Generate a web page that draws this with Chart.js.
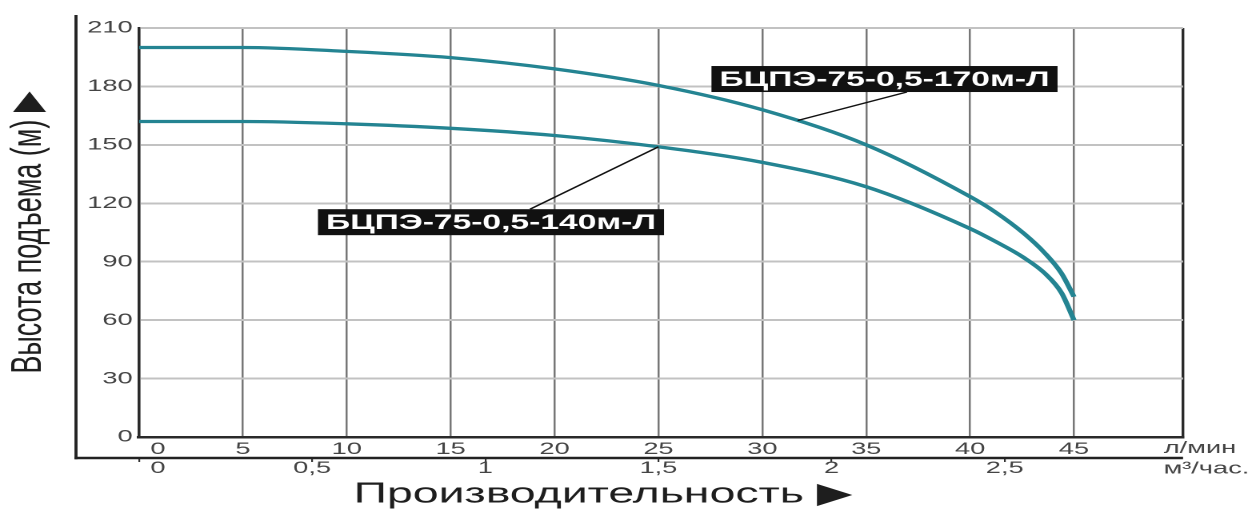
<!DOCTYPE html>
<html><head><meta charset="utf-8">
<script src="https://cdn.jsdelivr.net/npm/chart.js@4.4.1/dist/chart.umd.min.js"></script>
<style>
html,body{margin:0;padding:0;background:#fff;overflow:hidden;width:1255px;height:517px}
#wrap{position:absolute;left:0;top:0;width:784.375px;height:517px;transform:scaleX(1.6);transform-origin:0 0}
</style></head><body>
<div id="wrap"><canvas id="c"></canvas></div>
<script>
// ---- data ----
const flowLpm  = [0, 5, 10, 15, 20, 25, 30, 35, 40, 41.2, 42.6, 43.6, 44.4, 45];
const head170  = [200, 200, 198, 194.8, 189, 180.5, 168, 150, 123.4, 115.6, 104.4, 94.4, 84, 72];
const head140  = [162, 162, 160.8, 158.5, 154.8, 149, 141, 128.5, 107, 100.5, 92, 84, 74, 60];
const seriesNames = ['БЦПЭ-75-0,5-170м-Л', 'БЦПЭ-75-0,5-140м-Л'];
const lpmTicks  = [0, 5, 10, 15, 20, 25, 30, 35, 40, 45];
const m3hTicks  = [0, 0.5, 1, 1.5, 2, 2.5];
const m3hLabels = ['0', '0,5', '1', '1,5', '2', '2,5'];
const yTicks    = [0, 30, 60, 90, 120, 150, 180, 210];
const xMax = 50.25;
const unitTop = 'л/мин';
const unitBottom = 'м³/час.';
const yTitle = 'Высота подъема (м) ▶';
const xTitle = 'Производительность ▶';
// callout labels (data coordinates)
const labelCenterX = [35.88, 16.94];
const labelCenterY = [183.8, 110.3];
const stemX = [36.96, 18.82];
const tipX  = [31.7, 25.0];
const tipY  = [162.5, 149];

const LPM_PER_M3H = 1000 / 60;
const FONT = '"Liberation Sans", Arial, "DejaVu Sans", sans-serif';
const teal = 'rgb(36,132,146)';

const decor = {
  id: 'decor',
  afterDraw(chart) {
    const ctx = chart.ctx, ca = chart.chartArea;
    const xs = chart.scales.x, ys = chart.scales.y, x2 = chart.scales.x2;
    ctx.save();
    // outer L frame
    ctx.strokeStyle = '#222';
    ctx.lineWidth = 1.9;
    ctx.beginPath();
    ctx.moveTo(47.5, 15); ctx.lineTo(47.5, x2.top + 1.2); ctx.stroke();
    ctx.lineWidth = 2.5;
    ctx.beginPath();
    ctx.moveTo(46.6, x2.top); ctx.lineTo(ca.right, x2.top); ctx.stroke();
    // unit labels
    ctx.fillStyle = '#444';
    ctx.font = '17px ' + FONT;
    ctx.textAlign = 'center';
    ctx.textBaseline = 'middle';
    ctx.fillText(unitTop, 750, (xs.top + xs.bottom) / 2 + 1);
    ctx.fillText(unitBottom, 754, x2.top + 11);
    // callouts
    ctx.font = 'bold 21px ' + FONT;
    for (let i = 0; i < seriesNames.length; i++) {
      const cx = xs.getPixelForValue(labelCenterX[i]);
      const cy = ys.getPixelForValue(labelCenterY[i]);
      const w = ctx.measureText(seriesNames[i]).width + 10, h = 26;
      const tx = xs.getPixelForValue(tipX[i]), ty = ys.getPixelForValue(tipY[i]);
      const sx = xs.getPixelForValue(stemX[i]);
      const sy = ty > cy ? cy + h / 2 : cy - h / 2;
      ctx.strokeStyle = '#111';
      ctx.lineWidth = 1.3;
      ctx.beginPath(); ctx.moveTo(sx, sy); ctx.lineTo(tx, ty); ctx.stroke();
      ctx.fillStyle = '#111';
      ctx.fillRect(cx - w / 2, cy - h / 2, w, h);
      ctx.fillStyle = '#fff';
      ctx.fillText(seriesNames[i], cx, cy + 1);
    }
    ctx.restore();
  }
};

new Chart(document.getElementById('c'), {
  type: 'line',
  data: {
    datasets: [
      { label: seriesNames[0], data: flowLpm.map((x, i) => ({ x, y: head170[i] })),
        borderColor: teal, borderWidth: 3.3, pointRadius: 0, fill: false,
        cubicInterpolationMode: 'monotone', xAxisID: 'x', yAxisID: 'y' },
      { label: seriesNames[1], data: flowLpm.map((x, i) => ({ x, y: head140[i] })),
        borderColor: teal, borderWidth: 3.3, pointRadius: 0, fill: false,
        cubicInterpolationMode: 'monotone', xAxisID: 'x', yAxisID: 'y' }
    ]
  },
  options: {
    responsive: true,
    maintainAspectRatio: false,
    devicePixelRatio: 2,
    animation: false,
    layout: { padding: { left: 0, right: 784.375 - 739.4, top: 28, bottom: 0 } },
    plugins: { legend: { display: false }, tooltip: { enabled: false } },
    scales: {
      x: {
        type: 'linear', position: 'bottom', min: 0, max: xMax,
        afterBuildTicks: s => { s.ticks = lpmTicks.concat([xMax]).map(v => ({ value: v })); },
        afterFit: s => { s.height = 21; },
        ticks: {
          autoSkip: false, maxRotation: 0, padding: 2, color: '#444',
          font: { family: FONT, size: 17 },
          callback: (v) => v === xMax ? '' : (v === 0 ? '\u00A0\u00A0\u00A0\u00A0\u00A00' : String(v))
        },
        grid: {
          drawTicks: false,
          color: c => (c.tick && c.tick.value === xMax) ? '#2a2a2a' : '#777',
          lineWidth: c => (c.tick && c.tick.value === xMax) ? 1.7 : 1.25
        },
        border: { display: true, color: '#2a2a2a', width: 2.5 }
      },
      x2: {
        type: 'linear', position: 'bottom', min: 0, max: xMax,
        afterBuildTicks: s => { s.ticks = m3hTicks.map(v => ({ value: v * LPM_PER_M3H })); },
        afterFit: s => { s.height = 59; },
        ticks: {
          autoSkip: false, maxRotation: 0, padding: -4, color: '#444',
          font: { family: FONT, size: 17 },
          callback: (v, i) => i === 0 ? '\u00A0\u00A0\u00A0\u00A0\u00A0' + m3hLabels[0] : m3hLabels[i]
        },
        grid: { drawOnChartArea: false, drawTicks: true, tickLength: 4, color: '#333', lineWidth: 1.1 },
        border: { display: false },
        title: {
          display: true, text: xTitle + '\u00A0'.repeat(9), color: '#1e1e1e',
          font: { family: FONT, size: 29 }, padding: { top: 0, bottom: 5 }
        }
      },
      y: {
        type: 'linear', position: 'left', min: 0, max: 210,
        afterBuildTicks: s => { s.ticks = yTicks.map(v => ({ value: v })); },
        afterFit: s => { s.width = 86.9; },
        ticks: { padding: 4, color: '#444', font: { family: FONT, size: 17 } },
        grid: { drawTicks: false, color: '#c2c2c2', lineWidth: 2 },
        border: { display: true, color: '#2a2a2a', width: 1.7 },
        title: {
          display: true, text: yTitle, color: '#1e1e1e',
          font: { family: FONT, size: 27 }, padding: { top: 2, bottom: 0 }
        }
      }
    }
  },
  plugins: [decor]
});
</script>
</body></html>
